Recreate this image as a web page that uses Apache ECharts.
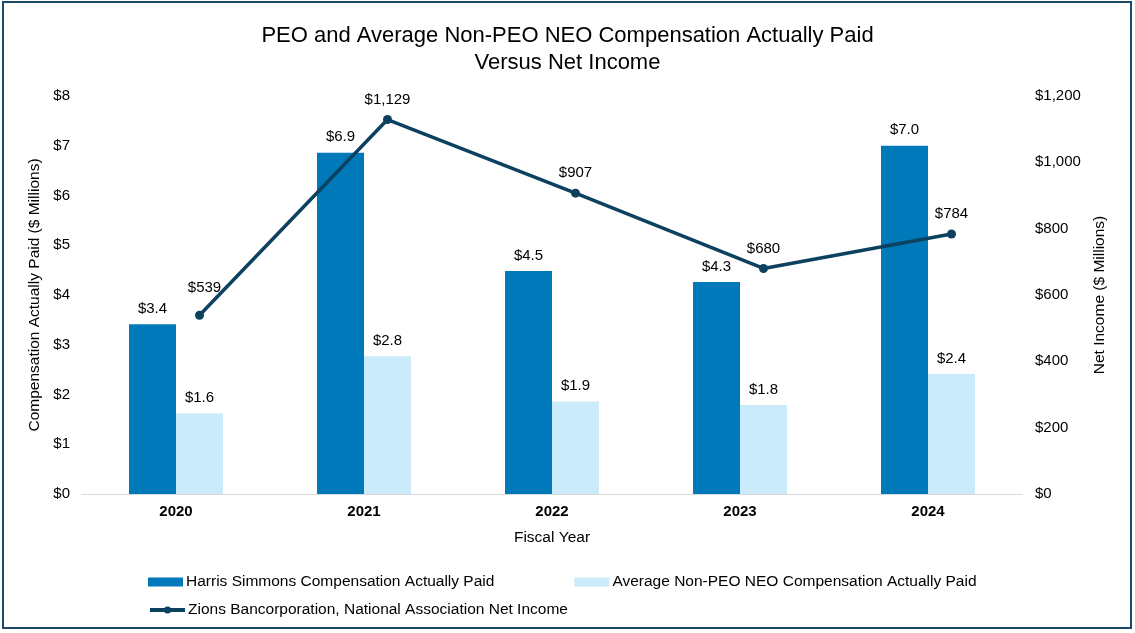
<!DOCTYPE html>
<html>
<head>
<meta charset="utf-8">
<script src="https://cdn.jsdelivr.net/npm/echarts@6/dist/echarts.min.js"></script>
<style>
html,body{margin:0;padding:0;background:#fff;}
#chart{width:1135px;height:633px;}
</style>
</head>
<body>
<div id="chart"></div>
<script>
const years = ['2020', '2021', '2022', '2023', '2024'];
const peoComp = [3.41, 6.86, 4.48, 4.26, 7.00];
const neoComp = [1.62, 2.77, 1.86, 1.79, 2.41];
const netIncome = [539, 1129, 907, 680, 784];
const leftTicks = [0, 1, 2, 3, 4, 5, 6, 7, 8];
const rightTicks = [0, 200, 400, 600, 800, 1000, 1200];

const FONT = '"Liberation Sans", Arial, sans-serif';
const fmtMoney = v => '$' + Number(v).toLocaleString('en-US');
// line markers sit over the centre of the second (light) bar in each category
const LINE_OFFSET = 0.125;

const chart = echarts.init(document.getElementById('chart'), null, {renderer: 'canvas'});
chart.setOption({
  backgroundColor: '#ffffff',
  animation: false,
  textStyle: {fontFamily: FONT},
  title: {
    text: 'PEO and Average Non-PEO NEO Compensation Actually Paid\nVersus Net Income',
    left: 'center',
    top: 17,
    textStyle: {fontFamily: FONT, fontSize: 22, fontWeight: 'normal', color: '#000', lineHeight: 27}
  },
  graphic: [{
    type: 'rect',
    shape: {x: 3, y: 2, width: 1128, height: 626},
    style: {fill: 'none', stroke: '#1B4A68', lineWidth: 2},
    silent: true
  }],
  legend: [{
    data: ['Harris Simmons Compensation Actually Paid', 'Average Non-PEO NEO Compensation Actually Paid'],
    left: 143, top: 569,
    icon: 'rect',
    itemWidth: 35, itemHeight: 9, itemGap: 80,
    textStyle: {fontFamily: FONT, fontSize: 15.5, color: '#000', padding: [0, 0, 0, -2]}
  }, {
    data: ['Zions Bancorporation, National Association Net Income'],
    left: 143, top: 597,
    itemWidth: 35, itemHeight: 9,
    lineStyle: {width: 4},
    textStyle: {fontFamily: FONT, fontSize: 15.5, color: '#000', padding: [0, 0, 0, -2]}
  }],
  grid: {left: 82, right: 113, top: 96, bottom: 139},
  xAxis: [{
    type: 'category',
    data: years,
    name: 'Fiscal Year',
    nameLocation: 'middle',
    nameGap: 36,
    nameTextStyle: {fontFamily: FONT, fontSize: 15.5, color: '#000'},
    axisLine: {show: true, lineStyle: {color: '#D9D9D9', width: 1}},
    axisTick: {show: false},
    axisLabel: {fontFamily: FONT, fontSize: 15, fontWeight: 'bold', color: '#000', margin: 10}
  }, {
    type: 'value',
    min: -0.5, max: 4.5,
    show: false
  }],
  yAxis: [{
    type: 'value',
    min: 0, max: 8, interval: 1,
    name: 'Compensation Actually Paid ($ Millions)',
    nameLocation: 'middle',
    nameRotate: 90,
    nameGap: 32,
    nameTextStyle: {fontFamily: FONT, fontSize: 15.5, color: '#000'},
    axisLine: {show: false},
    axisTick: {show: false},
    splitLine: {show: false},
    axisLabel: {fontFamily: FONT, fontSize: 15, color: '#000', margin: 12,
      formatter: v => leftTicks.includes(v) ? '$' + v : ''}
  }, {
    type: 'value',
    min: 0, max: 1200, interval: 200,
    name: 'Net Income ($ Millions)',
    nameLocation: 'middle',
    nameRotate: 90,
    nameGap: 70,
    nameTextStyle: {fontFamily: FONT, fontSize: 15.5, color: '#000'},
    axisLine: {show: false},
    axisTick: {show: false},
    splitLine: {show: false},
    axisLabel: {fontFamily: FONT, fontSize: 15, color: '#000', margin: 13,
      formatter: v => rightTicks.includes(v) ? fmtMoney(v) : ''}
  }],
  series: [{
    name: 'Harris Simmons Compensation Actually Paid',
    type: 'bar',
    xAxisIndex: 0, yAxisIndex: 0,
    data: peoComp,
    barGap: '0%',
    barCategoryGap: '50%',
    itemStyle: {color: '#0079BA'},
    label: {show: true, position: 'top', distance: 8, fontFamily: FONT, fontSize: 15, color: '#000',
      formatter: p => '$' + p.value.toFixed(1)}
  }, {
    name: 'Average Non-PEO NEO Compensation Actually Paid',
    type: 'bar',
    xAxisIndex: 0, yAxisIndex: 0,
    data: neoComp,
    barGap: '0%',
    barCategoryGap: '50%',
    itemStyle: {color: '#CCEBFA'},
    label: {show: true, position: 'top', distance: 8, fontFamily: FONT, fontSize: 15, color: '#000',
      formatter: p => '$' + p.value.toFixed(1)}
  }, {
    name: 'Zions Bancorporation, National Association Net Income',
    type: 'line',
    xAxisIndex: 1, yAxisIndex: 1,
    data: netIncome.map((v, i) => i === 0
      ? {value: [i + LINE_OFFSET, v], label: {distance: 15, offset: [5, 0]}}
      : {value: [i + LINE_OFFSET, v]}),
    symbol: 'circle',
    symbolSize: 9,
    lineStyle: {color: '#0C4160', width: 3.5},
    itemStyle: {color: '#0C4160'},
    label: {show: true, position: 'top', distance: 8, fontFamily: FONT, fontSize: 15, color: '#000',
      formatter: p => fmtMoney(p.value[1])}
  }]
});
</script>
</body>
</html>
